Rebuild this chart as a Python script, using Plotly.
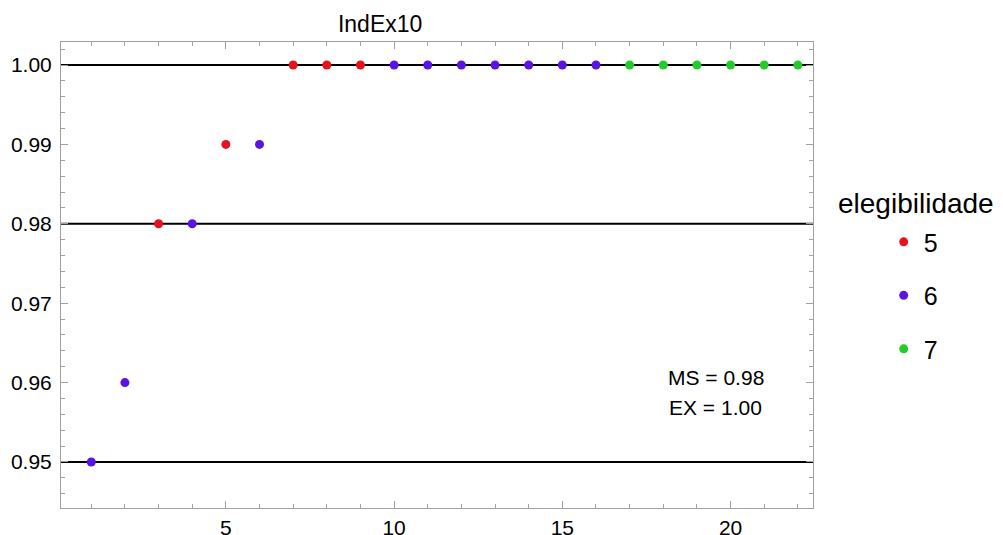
import plotly.graph_objects as go

# data
x_idx = list(range(1, 23))
y_vals = [0.95, 0.96, 0.98, 0.98, 0.99, 0.99, 1.00, 1.00, 1.00, 1.00, 1.00,
          1.00, 1.00, 1.00, 1.00, 1.00, 1.00, 1.00, 1.00, 1.00, 1.00, 1.00]
elegib = [6, 6, 5, 6, 5, 6, 5, 5, 5, 6, 6, 6, 6, 6, 6, 6, 7, 7, 7, 7, 7, 7]
groups = [5, 6, 7]
colors = {5: "#e8121e", 6: "#5a14e6", 7: "#22cc2a"}
ref_lines = [0.95, 0.98, 1.00]
x_ticks = [5, 10, 15, 20]
y_ticks = [0.95, 0.96, 0.97, 0.98, 0.99, 1.00]
title_text = "IndEx10"
notes = ["MS = 0.98", "EX = 1.00"]

FONT = "Liberation Sans, Arial, sans-serif"

fig = go.Figure()
for g in groups:
    xs = [x for x, e in zip(x_idx, elegib) if e == g]
    ys = [y for y, e in zip(y_vals, elegib) if e == g]
    fig.add_trace(go.Scatter(x=xs, y=ys, mode="markers", name=str(g),
                             legendgroup=str(g),
                             marker=dict(color=colors[g], size=9),
                             cliponaxis=False))

for yv in ref_lines:
    fig.add_shape(type="line", xref="paper", x0=0, x1=1, yref="y", y0=yv, y1=yv,
                  line=dict(color="black", width=2), layer="below")

fig.add_annotation(xref="paper", yref="y", x=0.871, xanchor="center", y=0.9606,
                   yanchor="middle", text=notes[0],
                   showarrow=False, font=dict(size=21, color="black", family=FONT))
fig.add_annotation(xref="paper", yref="y", x=0.871, xanchor="center", y=0.9568,
                   yanchor="middle", text=notes[1],
                   showarrow=False, font=dict(size=21, color="black", family=FONT))
fig.add_annotation(xref="paper", yref="paper", x=1.031, y=0.654, xanchor="left",
                   yanchor="middle", text="elegibilidade", showarrow=False,
                   font=dict(size=28, color="black", family=FONT))

axis_common = dict(showgrid=False, zeroline=False, showline=True, linecolor="#a0a0a0",
                   linewidth=1, mirror="ticks", ticks="inside", ticklen=7,
                   automargin=False,
                   tickcolor="#a0a0a0", tickfont=dict(size=21, color="black", family=FONT))

fig.update_layout(
    width=1003, height=535,
    margin=dict(l=61, r=190, t=42, b=27, autoexpand=False),
    paper_bgcolor="white", plot_bgcolor="white",
    title=dict(text=title_text, xref="container", x=0.379, xanchor="center",
               yref="container", y=0.955, yanchor="middle",
               font=dict(size=23, color="black", family=FONT)),
    xaxis=dict(range=[0.1, 22.45], tickvals=x_ticks, ticklabelstandoff=1,
               minor=dict(dtick=1, tick0=0, ticklen=4, tickcolor="#a0a0a0", ticks="inside"),
               **axis_common),
    yaxis=dict(range=[0.9442, 1.0029], tickvals=y_ticks, tickformat=".2f",
               ticklabelstandoff=4,
               minor=dict(dtick=0.002, tick0=0.95, ticklen=4, tickcolor="#a0a0a0", ticks="inside"),
               **axis_common),
    legend=dict(x=1.094, xanchor="left", y=0.62, yanchor="top",
                font=dict(size=25, color="black", family=FONT),
                tracegroupgap=18, itemwidth=30, bgcolor="rgba(0,0,0,0)"),
    showlegend=True,
)

fig.write_html("out.html", config={"displayModeBar": False},
               post_script="document.body.style.margin='0';document.body.style.overflow='hidden';")
